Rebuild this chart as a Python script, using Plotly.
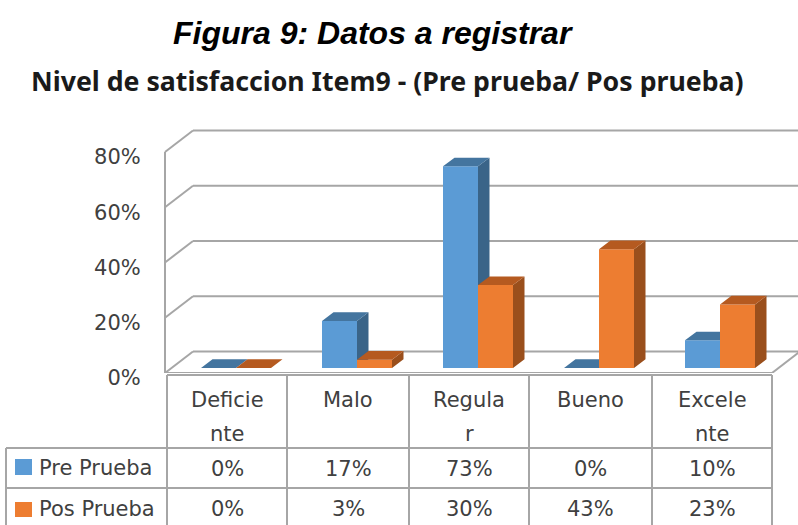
import plotly.graph_objects as go

# ---- data ----
categories = ["Deficiente", "Malo", "Regular", "Bueno", "Excelente"]
category_lines = [["Deficie", "nte"], ["Malo", ""], ["Regula", "r"], ["Bueno", ""], ["Excele", "nte"]]
pre_prueba = [0, 17, 73, 0, 10]
pos_prueba = [0, 3, 30, 43, 23]
y_ticks = [0, 20, 40, 60, 80]
title_text = "Figura 9: Datos a registrar"
subtitle_text = "Nivel de satisfaccion Item9 - (Pre prueba/ Pos prueba)"

# ---- layout constants ----
W, H = 798, 525
PLOT_L, PLOT_T, PLOT_B = 160, 120, 373
CAT_PX = 121.0
PCT_PX = 2.7625
CENTER0 = 227.5
x_range = [(PLOT_L - CENTER0) / CAT_PX, (W - CENTER0) / CAT_PX]
y_range = [0, (PLOT_B - PLOT_T) / PCT_PX]

BAR_W = 35 / CAT_PX
BAR_SHIFT = 8.5 / CAT_PX
BAR_BASE = 5 / PCT_PX
BAR_DX, BAR_DY = 11.5 / CAT_PX, 8.7 / PCT_PX
WALL_DX, WALL_DY = 28 / CAT_PX, 21.5 / PCT_PX
WALL_X0 = (165 - CENTER0) / CAT_PX
FLOOR_X1 = (772 - CENTER0) / CAT_PX

GRID = "#A6A6A6"
TEXT = "#404040"
FONT = "DejaVu Sans"
FS = 21


def px(x):
    return (x - PLOT_L) / (W - PLOT_L)


def py(y):
    return (PLOT_B - y) / (PLOT_B - PLOT_T)


def faces(values, left_offset):
    side_x, side_y, top_x, top_y = [], [], [], []
    for i, v in enumerate(values):
        x0 = i + left_offset
        x1 = x0 + BAR_W
        y0, y1 = BAR_BASE, BAR_BASE + v
        top_x += [x0, x1, x1 + BAR_DX, x0 + BAR_DX, x0, None]
        top_y += [y1, y1, y1 + BAR_DY, y1 + BAR_DY, y1, None]
        if v > 0:
            side_x += [x1, x1 + BAR_DX, x1 + BAR_DX, x1, x1, None]
            side_y += [y0, y0 + BAR_DY, y1 + BAR_DY, y1, y0, None]
    return side_x, side_y, top_x, top_y


def add_series(fig, name, values, left_offset, front, side, top, xa, ya):
    sx, sy, tx, ty = faces(values, left_offset)
    fig.add_trace(go.Bar(name=name, x=[i + left_offset + BAR_W / 2 for i in range(len(values))],
                         y=values, base=BAR_BASE, width=BAR_W, marker=dict(color=front, line_width=0),
                         xaxis=xa, yaxis=ya, showlegend=False, customdata=categories,
                         hovertemplate="%{customdata}: %{y}%<extra>" + name + "</extra>"))
    for fx, fy, col in ((sx, sy, side), (tx, ty, top)):
        fig.add_trace(go.Scatter(x=fx, y=fy, mode="lines", fill="toself", fillcolor=col,
                                 line=dict(width=0, color=col), hoverinfo="skip",
                                 showlegend=False, xaxis=xa, yaxis=ya))


fig = go.Figure()
add_series(fig, "Pre Prueba", pre_prueba, BAR_SHIFT - BAR_W, "#5B9BD5", "#3A6488", "#44759F", "x", "y")
add_series(fig, "Pos Prueba", pos_prueba, BAR_SHIFT, "#ED7D31", "#9A4F1C", "#B55A20", "x2", "y2")

shapes = []


def line(x0, y0, x1, y1, ref="data", width=2):
    xr, yr = ("x", "y") if ref == "data" else ("paper", "paper")
    shapes.append(dict(type="line", xref=xr, yref=yr, x0=x0, y0=y0, x1=x1, y1=y1,
                       layer="below", line=dict(color=GRID, width=width)))


# 3D walls: gridlines follow the value axis
for t in y_ticks:
    line(WALL_X0, t, WALL_X0 + WALL_DX, t + WALL_DY)
    line(WALL_X0 + WALL_DX, t + WALL_DY, x_range[1], t + WALL_DY)
line(WALL_X0, y_ticks[0], WALL_X0, y_ticks[-1])
line(WALL_X0, 0, FLOOR_X1, 0)
line(FLOOR_X1, 0, FLOOR_X1 + WALL_DX, WALL_DY)

# data table grid (pixel positions of the table frame)
cols = [167, 287, 409, 529, 652, 772]
r_top, r1, r2, r3 = 375, 448, 488, 530
for c in cols:
    line(px(c), py(r_top), px(c), py(r3), "paper")
line(px(cols[0]), py(r_top), px(cols[-1]), py(r_top), "paper")
for r in (r1, r2, r3):
    line(px(6), py(r), px(cols[-1]), py(r), "paper")
line(px(6), py(r1), px(6), py(r3), "paper")

# legend keys
for (y0, y1), col in (((459, 475), "#5B9BD5"), ((502, 517), "#ED7D31")):
    shapes.append(dict(type="rect", xref="paper", yref="paper", x0=px(15), x1=px(32), y0=py(y0), y1=py(y1),
                       line_width=0, fillcolor=col))

annotations = []


def text(s, x, y, size=FS, color=TEXT, anchor="center", family=FONT, bold=False, italic=False):
    if bold:
        s = "<b>" + s + "</b>"
    if italic:
        s = "<i>" + s + "</i>"
    annotations.append(dict(text=s, xref="paper", yref="paper", x=px(x), y=py(y), xanchor=anchor, yanchor="middle",
                            showarrow=False, font=dict(family=family, size=size, color=color)))


for i, lines in enumerate(category_lines):
    cx = (cols[i] + cols[i + 1]) / 2
    text(lines[0], cx, 400)
    if lines[1]:
        text(lines[1], cx, 434)
    text(f"{pre_prueba[i]}%", cx, 469)
    text(f"{pos_prueba[i]}%", cx, 509)
text("Pre Prueba", 37, 468, anchor="left")
text("Pos Prueba", 37, 509, anchor="left")
text(subtitle_text, 29, 80, size=26.7, color="#1a1a1a", anchor="left", family="Noto Sans", bold=True)

fig.update_layout(
    width=W, height=H, autosize=False,
    margin=dict(l=PLOT_L, r=0, t=PLOT_T, b=H - PLOT_B),
    paper_bgcolor="white", plot_bgcolor="white",
    barmode="overlay", showlegend=False,
    title=dict(text="<b><i>" + title_text + "</i></b>", x=173 / W, xanchor="left", y=1 - 33 / H, yanchor="middle",
               font=dict(family="Liberation Sans", size=32, color="black")),
    xaxis=dict(range=x_range, visible=False, fixedrange=True),
    yaxis=dict(range=y_range, tickvals=y_ticks, ticktext=[f"{t}%" for t in y_ticks], showgrid=False, zeroline=False,
               showline=False, ticks="outside", ticklen=14, tickcolor="rgba(0,0,0,0)", tickwidth=1,
               ticklabelshift=5, tickfont=dict(family=FONT, size=FS, color=TEXT), fixedrange=True),
    xaxis2=dict(range=x_range, visible=False, overlaying="x", fixedrange=True),
    yaxis2=dict(range=y_range, visible=False, overlaying="y", fixedrange=True),
    shapes=shapes, annotations=annotations,
)

fig.write_html("out.html", config=dict(displayModeBar=False),
               post_script="document.body.style.margin='0';document.body.style.overflow='hidden';")
